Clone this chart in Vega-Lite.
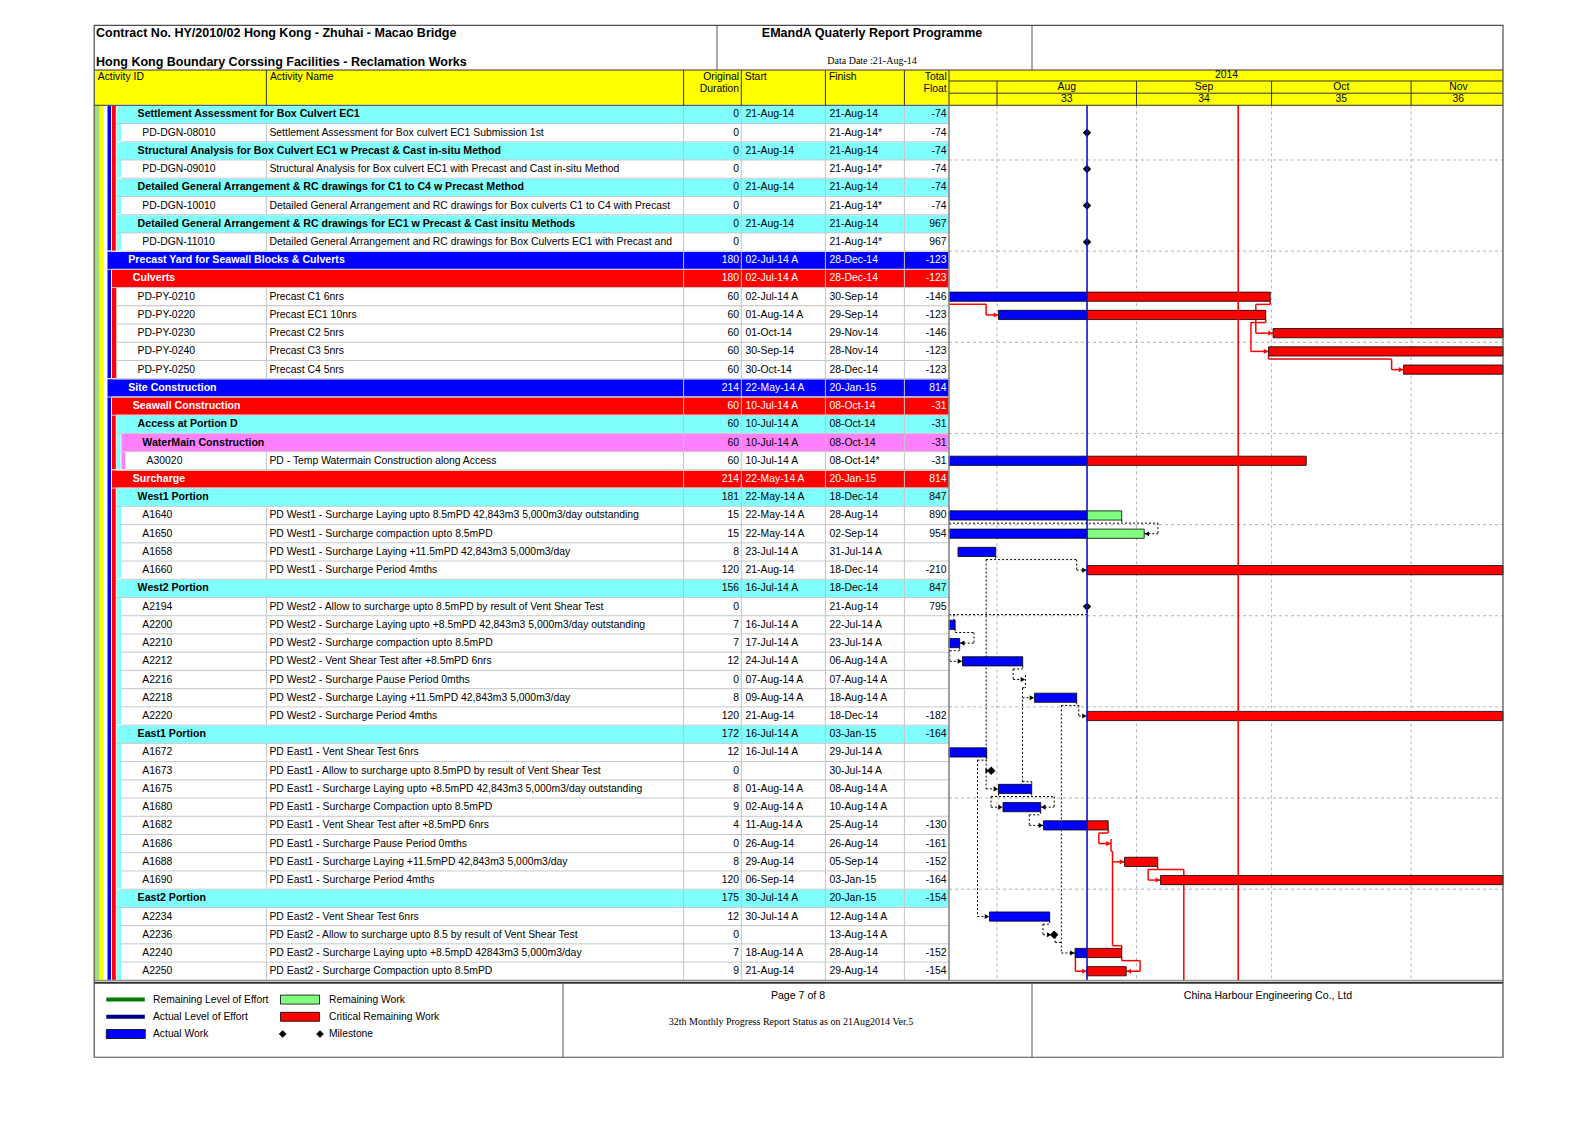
{
"$schema":"https://vega.github.io/schema/vega-lite/v6.json",
"width":1588,"height":1123,
"autosize":{"type":"none"},
"padding":0,
"background":"white",
"config":{"view":{"stroke":null},"axis":{"disable":true},"legend":{"disable":true}},
"datasets":{
"rows":[
{"r":1,"type":"band","lvl":3,"id":"","name":"Settlement Assessment for Box Culvert EC1","dur":"0","start":"21-Aug-14","finish":"21-Aug-14","float":"-74"},
{"r":2,"type":"act","lvl":4,"id":"PD-DGN-08010","name":"Settlement Assessment for Box culvert EC1 Submission 1st","dur":"0","start":"","finish":"21-Aug-14*","float":"-74"},
{"r":3,"type":"band","lvl":3,"id":"","name":"Structural Analysis for Box Culvert EC1 w Precast & Cast in-situ Method","dur":"0","start":"21-Aug-14","finish":"21-Aug-14","float":"-74"},
{"r":4,"type":"act","lvl":4,"id":"PD-DGN-09010","name":"Structural Analysis for Box culvert EC1 with Precast and Cast in-situ Method","dur":"0","start":"","finish":"21-Aug-14*","float":"-74"},
{"r":5,"type":"band","lvl":3,"id":"","name":"Detailed General Arrangement & RC drawings for C1 to C4  w Precast Method","dur":"0","start":"21-Aug-14","finish":"21-Aug-14","float":"-74"},
{"r":6,"type":"act","lvl":4,"id":"PD-DGN-10010","name":"Detailed General Arrangement and RC drawings for Box culverts C1 to C4 with Precast","dur":"0","start":"","finish":"21-Aug-14*","float":"-74"},
{"r":7,"type":"band","lvl":3,"id":"","name":"Detailed General Arrangement & RC drawings for EC1 w Precast & Cast insitu Methods","dur":"0","start":"21-Aug-14","finish":"21-Aug-14","float":"967"},
{"r":8,"type":"act","lvl":4,"id":"PD-DGN-11010","name":"Detailed General Arrangement and RC drawings for Box Culverts EC1 with Precast and","dur":"0","start":"","finish":"21-Aug-14*","float":"967"},
{"r":9,"type":"band","lvl":1,"id":"","name":"Precast Yard for Seawall Blocks & Culverts","dur":"180","start":"02-Jul-14 A","finish":"28-Dec-14","float":"-123"},
{"r":10,"type":"band","lvl":2,"id":"","name":"Culverts","dur":"180","start":"02-Jul-14 A","finish":"28-Dec-14","float":"-123"},
{"r":11,"type":"act","lvl":3,"id":"PD-PY-0210","name":"Precast C1 6nrs","dur":"60","start":"02-Jul-14 A","finish":"30-Sep-14","float":"-146"},
{"r":12,"type":"act","lvl":3,"id":"PD-PY-0220","name":"Precast EC1 10nrs","dur":"60","start":"01-Aug-14 A","finish":"29-Sep-14","float":"-123"},
{"r":13,"type":"act","lvl":3,"id":"PD-PY-0230","name":"Precast C2 5nrs","dur":"60","start":"01-Oct-14","finish":"29-Nov-14","float":"-146"},
{"r":14,"type":"act","lvl":3,"id":"PD-PY-0240","name":"Precast C3 5nrs","dur":"60","start":"30-Sep-14","finish":"28-Nov-14","float":"-123"},
{"r":15,"type":"act","lvl":3,"id":"PD-PY-0250","name":"Precast C4 5nrs","dur":"60","start":"30-Oct-14","finish":"28-Dec-14","float":"-123"},
{"r":16,"type":"band","lvl":1,"id":"","name":"Site Construction","dur":"214","start":"22-May-14 A","finish":"20-Jan-15","float":"814"},
{"r":17,"type":"band","lvl":2,"id":"","name":"Seawall Construction","dur":"60","start":"10-Jul-14 A","finish":"08-Oct-14","float":"-31"},
{"r":18,"type":"band","lvl":3,"id":"","name":"Access at Portion D","dur":"60","start":"10-Jul-14 A","finish":"08-Oct-14","float":"-31"},
{"r":19,"type":"band","lvl":4,"id":"","name":"WaterMain Construction","dur":"60","start":"10-Jul-14 A","finish":"08-Oct-14","float":"-31"},
{"r":20,"type":"act","lvl":5,"id":"A30020","name":"PD - Temp Watermain Construction along Access","dur":"60","start":"10-Jul-14 A","finish":"08-Oct-14*","float":"-31"},
{"r":21,"type":"band","lvl":2,"id":"","name":"Surcharge","dur":"214","start":"22-May-14 A","finish":"20-Jan-15","float":"814"},
{"r":22,"type":"band","lvl":3,"id":"","name":"West1 Portion","dur":"181","start":"22-May-14 A","finish":"18-Dec-14","float":"847"},
{"r":23,"type":"act","lvl":4,"id":"A1640","name":"PD West1 - Surcharge Laying upto 8.5mPD 42,843m3 5,000m3/day outstanding","dur":"15","start":"22-May-14 A","finish":"28-Aug-14","float":"890"},
{"r":24,"type":"act","lvl":4,"id":"A1650","name":"PD West1 - Surcharge compaction upto 8.5mPD","dur":"15","start":"22-May-14 A","finish":"02-Sep-14","float":"954"},
{"r":25,"type":"act","lvl":4,"id":"A1658","name":"PD West1 - Surcharge Laying +11.5mPD 42,843m3 5,000m3/day","dur":"8","start":"23-Jul-14 A","finish":"31-Jul-14 A","float":""},
{"r":26,"type":"act","lvl":4,"id":"A1660","name":"PD West1 - Surcharge Period 4mths","dur":"120","start":"21-Aug-14","finish":"18-Dec-14","float":"-210"},
{"r":27,"type":"band","lvl":3,"id":"","name":"West2 Portion","dur":"156","start":"16-Jul-14 A","finish":"18-Dec-14","float":"847"},
{"r":28,"type":"act","lvl":4,"id":"A2194","name":"PD West2 - Allow to surcharge upto 8.5mPD by result of Vent Shear Test","dur":"0","start":"","finish":"21-Aug-14","float":"795"},
{"r":29,"type":"act","lvl":4,"id":"A2200","name":"PD West2 - Surcharge Laying upto +8.5mPD 42,843m3 5,000m3/day outstanding","dur":"7","start":"16-Jul-14 A","finish":"22-Jul-14 A","float":""},
{"r":30,"type":"act","lvl":4,"id":"A2210","name":"PD West2 - Surcharge compaction upto 8.5mPD","dur":"7","start":"17-Jul-14 A","finish":"23-Jul-14 A","float":""},
{"r":31,"type":"act","lvl":4,"id":"A2212","name":"PD West2 - Vent Shear Test after +8.5mPD 6nrs","dur":"12","start":"24-Jul-14 A","finish":"06-Aug-14 A","float":""},
{"r":32,"type":"act","lvl":4,"id":"A2216","name":"PD West2 - Surcharge Pause Period 0mths","dur":"0","start":"07-Aug-14 A","finish":"07-Aug-14 A","float":""},
{"r":33,"type":"act","lvl":4,"id":"A2218","name":"PD West2 - Surcharge Laying +11.5mPD 42,843m3 5,000m3/day","dur":"8","start":"09-Aug-14 A","finish":"18-Aug-14 A","float":""},
{"r":34,"type":"act","lvl":4,"id":"A2220","name":"PD West2 - Surcharge Period 4mths","dur":"120","start":"21-Aug-14","finish":"18-Dec-14","float":"-182"},
{"r":35,"type":"band","lvl":3,"id":"","name":"East1 Portion","dur":"172","start":"16-Jul-14 A","finish":"03-Jan-15","float":"-164"},
{"r":36,"type":"act","lvl":4,"id":"A1672","name":"PD East1 - Vent Shear Test 6nrs","dur":"12","start":"16-Jul-14 A","finish":"29-Jul-14 A","float":""},
{"r":37,"type":"act","lvl":4,"id":"A1673","name":"PD East1 - Allow to surcharge upto 8.5mPD by result of Vent Shear Test","dur":"0","start":"","finish":"30-Jul-14 A","float":""},
{"r":38,"type":"act","lvl":4,"id":"A1675","name":"PD East1 - Surcharge Laying upto +8.5mPD 42,843m3 5,000m3/day outstanding","dur":"8","start":"01-Aug-14 A","finish":"08-Aug-14 A","float":""},
{"r":39,"type":"act","lvl":4,"id":"A1680","name":"PD East1 - Surcharge Compaction upto 8.5mPD","dur":"9","start":"02-Aug-14 A","finish":"10-Aug-14 A","float":""},
{"r":40,"type":"act","lvl":4,"id":"A1682","name":"PD East1 - Vent Shear Test after +8.5mPD 6nrs","dur":"4","start":"11-Aug-14 A","finish":"25-Aug-14","float":"-130"},
{"r":41,"type":"act","lvl":4,"id":"A1686","name":"PD East1 - Surcharge Pause Period 0mths","dur":"0","start":"26-Aug-14","finish":"26-Aug-14","float":"-161"},
{"r":42,"type":"act","lvl":4,"id":"A1688","name":"PD East1 - Surcharge Laying +11.5mPD 42,843m3 5,000m3/day","dur":"8","start":"29-Aug-14","finish":"05-Sep-14","float":"-152"},
{"r":43,"type":"act","lvl":4,"id":"A1690","name":"PD East1 - Surcharge Period 4mths","dur":"120","start":"06-Sep-14","finish":"03-Jan-15","float":"-164"},
{"r":44,"type":"band","lvl":3,"id":"","name":"East2 Portion","dur":"175","start":"30-Jul-14 A","finish":"20-Jan-15","float":"-154"},
{"r":45,"type":"act","lvl":4,"id":"A2234","name":"PD East2 - Vent Shear Test 6nrs","dur":"12","start":"30-Jul-14 A","finish":"12-Aug-14 A","float":""},
{"r":46,"type":"act","lvl":4,"id":"A2236","name":"PD East2 - Allow to surcharge upto 8.5 by result of Vent Shear Test","dur":"0","start":"","finish":"13-Aug-14 A","float":""},
{"r":47,"type":"act","lvl":4,"id":"A2240","name":"PD East2 - Surcharge Laying upto +8.5mpD 42843m3 5,000m3/day","dur":"7","start":"18-Aug-14 A","finish":"28-Aug-14","float":"-152"},
{"r":48,"type":"act","lvl":4,"id":"A2250","name":"PD East2 - Surcharge Compaction upto 8.5mPD","dur":"9","start":"21-Aug-14","finish":"29-Aug-14","float":"-154"}
],
"groups":[
{"lvl":-3,"r":1,"r2":48},{"lvl":-2,"r":1,"r2":48},{"lvl":-1,"r":1,"r2":48},{"lvl":0,"r":1,"r2":48},
{"lvl":1,"r":1,"r2":8},{"lvl":1,"r":9,"r2":15},{"lvl":1,"r":16,"r2":48},
{"lvl":2,"r":1,"r2":8},{"lvl":2,"r":10,"r2":15},{"lvl":2,"r":17,"r2":20},{"lvl":2,"r":21,"r2":48},
{"lvl":3,"r":1,"r2":2},{"lvl":3,"r":3,"r2":4},{"lvl":3,"r":5,"r2":6},{"lvl":3,"r":7,"r2":8},{"lvl":3,"r":18,"r2":20},{"lvl":3,"r":22,"r2":26},{"lvl":3,"r":27,"r2":34},{"lvl":3,"r":35,"r2":43},{"lvl":3,"r":44,"r2":48},
{"lvl":4,"r":19,"r2":20}
],
"bars":[
{"r":11,"seg":"act","from":"2014-07-02T08:00:00Z","to":"2014-08-21T00:00:00Z"},
{"r":11,"seg":"crit","from":"2014-08-21T00:00:00Z","to":"2014-09-30T17:00:00Z"},
{"r":12,"seg":"act","from":"2014-08-01T08:00:00Z","to":"2014-08-21T00:00:00Z"},
{"r":12,"seg":"crit","from":"2014-08-21T00:00:00Z","to":"2014-09-29T17:00:00Z"},
{"r":13,"seg":"crit","from":"2014-10-01T08:00:00Z","to":"2014-11-29T17:00:00Z"},
{"r":14,"seg":"crit","from":"2014-09-30T08:00:00Z","to":"2014-11-28T17:00:00Z"},
{"r":15,"seg":"crit","from":"2014-10-30T08:00:00Z","to":"2014-12-28T17:00:00Z"},
{"r":20,"seg":"act","from":"2014-07-10T08:00:00Z","to":"2014-08-21T00:00:00Z"},
{"r":20,"seg":"crit","from":"2014-08-21T00:00:00Z","to":"2014-10-08T17:00:00Z"},
{"r":23,"seg":"act","from":"2014-05-22T08:00:00Z","to":"2014-08-21T00:00:00Z"},
{"r":23,"seg":"rem","from":"2014-08-21T00:00:00Z","to":"2014-08-28T17:00:00Z"},
{"r":24,"seg":"act","from":"2014-05-22T08:00:00Z","to":"2014-08-21T00:00:00Z"},
{"r":24,"seg":"rem","from":"2014-08-21T00:00:00Z","to":"2014-09-02T17:00:00Z"},
{"r":25,"seg":"act","from":"2014-07-23T08:00:00Z","to":"2014-07-31T17:00:00Z"},
{"r":26,"seg":"crit","from":"2014-08-21T00:00:00Z","to":"2014-12-18T17:00:00Z"},
{"r":29,"seg":"act","from":"2014-07-16T08:00:00Z","to":"2014-07-22T17:00:00Z"},
{"r":30,"seg":"act","from":"2014-07-17T08:00:00Z","to":"2014-07-23T17:00:00Z"},
{"r":31,"seg":"act","from":"2014-07-24T08:00:00Z","to":"2014-08-06T17:00:00Z"},
{"r":33,"seg":"act","from":"2014-08-09T08:00:00Z","to":"2014-08-18T17:00:00Z"},
{"r":34,"seg":"crit","from":"2014-08-21T00:00:00Z","to":"2014-12-18T17:00:00Z"},
{"r":36,"seg":"act","from":"2014-07-16T08:00:00Z","to":"2014-07-29T17:00:00Z"},
{"r":38,"seg":"act","from":"2014-08-01T08:00:00Z","to":"2014-08-08T17:00:00Z"},
{"r":39,"seg":"act","from":"2014-08-02T08:00:00Z","to":"2014-08-10T17:00:00Z"},
{"r":40,"seg":"act","from":"2014-08-11T08:00:00Z","to":"2014-08-21T00:00:00Z"},
{"r":40,"seg":"crit","from":"2014-08-21T00:00:00Z","to":"2014-08-25T17:00:00Z"},
{"r":42,"seg":"crit","from":"2014-08-29T08:00:00Z","to":"2014-09-05T17:00:00Z"},
{"r":43,"seg":"crit","from":"2014-09-06T08:00:00Z","to":"2015-01-03T17:00:00Z"},
{"r":45,"seg":"act","from":"2014-07-30T08:00:00Z","to":"2014-08-12T17:00:00Z"},
{"r":47,"seg":"act","from":"2014-08-18T08:00:00Z","to":"2014-08-21T00:00:00Z"},
{"r":47,"seg":"crit","from":"2014-08-21T00:00:00Z","to":"2014-08-28T17:00:00Z"},
{"r":48,"seg":"crit","from":"2014-08-21T00:00:00Z","to":"2014-08-29T17:00:00Z"}
],
"miles":[
{"r":2,"at":"2014-08-21T00:00:00Z"},{"r":4,"at":"2014-08-21T00:00:00Z"},{"r":6,"at":"2014-08-21T00:00:00Z"},{"r":8,"at":"2014-08-21T00:00:00Z"},
{"r":28,"at":"2014-08-21T00:00:00Z"},{"r":37,"at":"2014-07-30T17:00:00Z"},{"r":46,"at":"2014-08-13T17:00:00Z"}
],
"links":[
{"rel":"crit","t1":"2014-07-15T00:00:00Z","t2":"2014-07-29T14:00:00Z","r":11.42,"r2":11.42},
{"rel":"crit","t1":"2014-07-29T14:00:00Z","t2":"2014-07-29T14:00:00Z","r":11.42,"r2":12},
{"rel":"crit","t1":"2014-07-29T14:00:00Z","t2":"2014-08-01T08:00:00Z","r":12,"r2":12},
{"rel":"crit","t1":"2014-09-30T17:00:00Z","t2":"2014-09-30T17:00:00Z","r":11.25,"r2":11.42},
{"rel":"crit","t1":"2014-09-27T12:00:00Z","t2":"2014-09-30T17:00:00Z","r":11.42,"r2":11.42},
{"rel":"crit","t1":"2014-09-27T12:00:00Z","t2":"2014-09-27T12:00:00Z","r":11.42,"r2":13},
{"rel":"crit","t1":"2014-09-27T12:00:00Z","t2":"2014-10-01T08:00:00Z","r":13,"r2":13},
{"rel":"crit","t1":"2014-09-29T17:00:00Z","t2":"2014-09-29T17:00:00Z","r":12.25,"r2":12.42},
{"rel":"crit","t1":"2014-09-26T10:00:00Z","t2":"2014-09-29T17:00:00Z","r":12.42,"r2":12.42},
{"rel":"crit","t1":"2014-09-26T10:00:00Z","t2":"2014-09-26T10:00:00Z","r":12.42,"r2":14},
{"rel":"crit","t1":"2014-09-26T10:00:00Z","t2":"2014-09-30T08:00:00Z","r":14,"r2":14},
{"rel":"crit","t1":"2014-09-30T08:00:00Z","t2":"2014-09-30T08:00:00Z","r":14.25,"r2":14.42},
{"rel":"crit","t1":"2014-09-30T08:00:00Z","t2":"2014-10-27T16:00:00Z","r":14.42,"r2":14.42},
{"rel":"crit","t1":"2014-10-27T16:00:00Z","t2":"2014-10-27T16:00:00Z","r":14.42,"r2":15},
{"rel":"crit","t1":"2014-10-27T16:00:00Z","t2":"2014-10-30T08:00:00Z","r":15,"r2":15},
{"rel":"crit","t1":"2014-08-25T17:00:00Z","t2":"2014-08-25T17:00:00Z","r":40.25,"r2":40.42},
{"rel":"crit","t1":"2014-08-23T15:00:00Z","t2":"2014-08-25T17:00:00Z","r":40.42,"r2":40.42},
{"rel":"crit","t1":"2014-08-23T15:00:00Z","t2":"2014-08-23T15:00:00Z","r":40.42,"r2":41},
{"rel":"crit","t1":"2014-08-23T15:00:00Z","t2":"2014-08-26T08:00:00Z","r":41,"r2":41},
{"rel":"crit","t1":"2014-08-26T08:00:00Z","t2":"2014-08-26T08:00:00Z","r":40.75,"r2":41.42},
{"rel":"crit","t1":"2014-08-26T08:00:00Z","t2":"2014-08-26T16:00:00Z","r":41.42,"r2":41.42},
{"rel":"crit","t1":"2014-08-26T16:00:00Z","t2":"2014-08-26T16:00:00Z","r":41.42,"r2":46.6},
{"rel":"crit","t1":"2014-08-26T16:00:00Z","t2":"2014-08-29T08:00:00Z","r":42,"r2":42},
{"rel":"crit","t1":"2014-08-26T16:00:00Z","t2":"2014-08-28T17:00:00Z","r":46.6,"r2":46.6},
{"rel":"crit","t1":"2014-08-28T17:00:00Z","t2":"2014-08-28T17:00:00Z","r":46.6,"r2":46.75},
{"rel":"crit","t1":"2014-09-05T17:00:00Z","t2":"2014-09-05T17:00:00Z","r":42.25,"r2":42.42},
{"rel":"crit","t1":"2014-09-03T14:00:00Z","t2":"2014-09-11T12:00:00Z","r":42.42,"r2":42.42},
{"rel":"crit","t1":"2014-09-03T14:00:00Z","t2":"2014-09-03T14:00:00Z","r":42.42,"r2":43},
{"rel":"crit","t1":"2014-09-03T14:00:00Z","t2":"2014-09-06T08:00:00Z","r":43,"r2":43},
{"rel":"crit","t1":"2014-09-11T12:00:00Z","t2":"2014-09-11T12:00:00Z","r":42.42,"r2":48.5},
{"rel":"crit","t1":"2014-08-18T10:00:00Z","t2":"2014-08-18T10:00:00Z","r":47.25,"r2":48},
{"rel":"crit","t1":"2014-08-18T10:00:00Z","t2":"2014-08-21T00:00:00Z","r":48,"r2":48},
{"rel":"crit","t1":"2014-08-28T17:00:00Z","t2":"2014-08-28T17:00:00Z","r":47.25,"r2":47.42},
{"rel":"crit","t1":"2014-08-28T17:00:00Z","t2":"2014-09-01T19:00:00Z","r":47.42,"r2":47.42},
{"rel":"crit","t1":"2014-09-01T19:00:00Z","t2":"2014-09-01T19:00:00Z","r":47.42,"r2":48},
{"rel":"crit","t1":"2014-08-29T17:00:00Z","t2":"2014-09-01T19:00:00Z","r":48,"r2":48},
{"rel":"norm","t1":"2014-08-28T17:00:00Z","t2":"2014-08-28T17:00:00Z","r":23.25,"r2":23.42},
{"rel":"norm","t1":"2014-07-15T00:00:00Z","t2":"2014-09-05T18:00:00Z","r":23.42,"r2":23.42},
{"rel":"norm","t1":"2014-09-05T18:00:00Z","t2":"2014-09-05T18:00:00Z","r":23.42,"r2":24},
{"rel":"norm","t1":"2014-09-02T17:00:00Z","t2":"2014-09-05T18:00:00Z","r":24,"r2":24},
{"rel":"norm","t1":"2014-07-31T17:00:00Z","t2":"2014-07-31T17:00:00Z","r":25.25,"r2":25.42},
{"rel":"norm","t1":"2014-07-29T14:00:00Z","t2":"2014-08-18T17:00:00Z","r":25.42,"r2":25.42},
{"rel":"norm","t1":"2014-08-18T17:00:00Z","t2":"2014-08-18T17:00:00Z","r":25.42,"r2":26},
{"rel":"norm","t1":"2014-08-18T17:00:00Z","t2":"2014-08-21T00:00:00Z","r":26,"r2":26},
{"rel":"norm","t1":"2014-07-29T14:00:00Z","t2":"2014-07-29T14:00:00Z","r":25.42,"r2":38},
{"rel":"norm","t1":"2014-07-29T14:00:00Z","t2":"2014-07-30T12:00:00Z","r":37,"r2":37},
{"rel":"norm","t1":"2014-07-29T14:00:00Z","t2":"2014-08-01T08:00:00Z","r":38,"r2":38},
{"rel":"norm","t1":"2014-08-21T00:00:00Z","t2":"2014-08-21T00:00:00Z","r":28,"r2":28.44},
{"rel":"norm","t1":"2014-07-15T00:00:00Z","t2":"2014-08-21T00:00:00Z","r":28.44,"r2":28.44},
{"rel":"norm","t1":"2014-07-22T10:00:00Z","t2":"2014-07-22T10:00:00Z","r":28.44,"r2":28.8},
{"rel":"norm","t1":"2014-07-22T17:00:00Z","t2":"2014-07-22T17:00:00Z","r":29.25,"r2":29.42},
{"rel":"norm","t1":"2014-07-22T17:00:00Z","t2":"2014-07-26T21:00:00Z","r":29.42,"r2":29.42},
{"rel":"norm","t1":"2014-07-26T21:00:00Z","t2":"2014-07-26T21:00:00Z","r":29.42,"r2":30},
{"rel":"norm","t1":"2014-07-23T17:00:00Z","t2":"2014-07-26T21:00:00Z","r":30,"r2":30},
{"rel":"norm","t1":"2014-07-23T17:00:00Z","t2":"2014-07-23T17:00:00Z","r":30.25,"r2":30.42},
{"rel":"norm","t1":"2014-07-21T12:00:00Z","t2":"2014-07-23T17:00:00Z","r":30.42,"r2":30.42},
{"rel":"norm","t1":"2014-07-21T12:00:00Z","t2":"2014-07-21T12:00:00Z","r":30.42,"r2":31},
{"rel":"norm","t1":"2014-07-21T12:00:00Z","t2":"2014-07-24T08:00:00Z","r":31,"r2":31},
{"rel":"norm","t1":"2014-08-06T17:00:00Z","t2":"2014-08-06T17:00:00Z","r":31.25,"r2":31.42},
{"rel":"norm","t1":"2014-08-04T14:00:00Z","t2":"2014-08-06T17:00:00Z","r":31.42,"r2":31.42},
{"rel":"norm","t1":"2014-08-04T14:00:00Z","t2":"2014-08-04T14:00:00Z","r":31.42,"r2":32},
{"rel":"norm","t1":"2014-08-04T14:00:00Z","t2":"2014-08-07T08:00:00Z","r":32,"r2":32},
{"rel":"norm","t1":"2014-08-07T08:00:00Z","t2":"2014-08-07T08:00:00Z","r":31.75,"r2":32.45},
{"rel":"norm","t1":"2014-08-06T16:00:00Z","t2":"2014-08-07T08:00:00Z","r":32.45,"r2":32.45},
{"rel":"norm","t1":"2014-08-06T16:00:00Z","t2":"2014-08-06T16:00:00Z","r":32.45,"r2":37.6},
{"rel":"norm","t1":"2014-08-06T16:00:00Z","t2":"2014-08-09T08:00:00Z","r":33,"r2":33},
{"rel":"norm","t1":"2014-08-06T16:00:00Z","t2":"2014-08-08T17:00:00Z","r":37.6,"r2":37.6},
{"rel":"norm","t1":"2014-08-08T17:00:00Z","t2":"2014-08-08T17:00:00Z","r":37.6,"r2":37.75},
{"rel":"norm","t1":"2014-08-18T17:00:00Z","t2":"2014-08-18T17:00:00Z","r":33.25,"r2":33.42},
{"rel":"norm","t1":"2014-08-15T07:00:00Z","t2":"2014-08-19T04:00:00Z","r":33.42,"r2":33.42},
{"rel":"norm","t1":"2014-08-19T04:00:00Z","t2":"2014-08-19T04:00:00Z","r":33.42,"r2":34},
{"rel":"norm","t1":"2014-08-19T04:00:00Z","t2":"2014-08-21T00:00:00Z","r":34,"r2":34},
{"rel":"norm","t1":"2014-08-15T07:00:00Z","t2":"2014-08-15T07:00:00Z","r":33.42,"r2":47},
{"rel":"norm","t1":"2014-08-15T07:00:00Z","t2":"2014-08-18T08:00:00Z","r":47,"r2":47},
{"rel":"norm","t1":"2014-07-29T17:00:00Z","t2":"2014-07-29T17:00:00Z","r":36.25,"r2":36.42},
{"rel":"norm","t1":"2014-07-27T16:00:00Z","t2":"2014-07-29T17:00:00Z","r":36.42,"r2":36.42},
{"rel":"norm","t1":"2014-07-27T16:00:00Z","t2":"2014-07-27T16:00:00Z","r":36.42,"r2":45},
{"rel":"norm","t1":"2014-07-27T16:00:00Z","t2":"2014-07-30T08:00:00Z","r":45,"r2":45},
{"rel":"norm","t1":"2014-08-08T17:00:00Z","t2":"2014-08-08T17:00:00Z","r":38.25,"r2":38.42},
{"rel":"norm","t1":"2014-08-01T08:00:00Z","t2":"2014-08-01T08:00:00Z","r":38.25,"r2":38.42},
{"rel":"norm","t1":"2014-07-30T16:00:00Z","t2":"2014-08-13T17:00:00Z","r":38.42,"r2":38.42},
{"rel":"norm","t1":"2014-08-13T17:00:00Z","t2":"2014-08-13T17:00:00Z","r":38.42,"r2":39},
{"rel":"norm","t1":"2014-08-10T17:00:00Z","t2":"2014-08-13T17:00:00Z","r":39,"r2":39},
{"rel":"norm","t1":"2014-07-30T16:00:00Z","t2":"2014-07-30T16:00:00Z","r":38.42,"r2":39},
{"rel":"norm","t1":"2014-07-30T16:00:00Z","t2":"2014-08-02T08:00:00Z","r":39,"r2":39},
{"rel":"norm","t1":"2014-08-10T17:00:00Z","t2":"2014-08-10T17:00:00Z","r":39.25,"r2":39.42},
{"rel":"norm","t1":"2014-08-08T04:00:00Z","t2":"2014-08-10T17:00:00Z","r":39.42,"r2":39.42},
{"rel":"norm","t1":"2014-08-08T04:00:00Z","t2":"2014-08-08T04:00:00Z","r":39.42,"r2":40},
{"rel":"norm","t1":"2014-08-08T04:00:00Z","t2":"2014-08-11T08:00:00Z","r":40,"r2":40},
{"rel":"norm","t1":"2014-08-12T17:00:00Z","t2":"2014-08-12T17:00:00Z","r":45.25,"r2":45.42},
{"rel":"norm","t1":"2014-08-11T05:00:00Z","t2":"2014-08-12T17:00:00Z","r":45.42,"r2":45.42},
{"rel":"norm","t1":"2014-08-11T05:00:00Z","t2":"2014-08-11T05:00:00Z","r":45.42,"r2":46},
{"rel":"norm","t1":"2014-08-11T05:00:00Z","t2":"2014-08-13T12:00:00Z","r":46,"r2":46},
{"rel":"norm","t1":"2014-08-13T22:00:00Z","t2":"2014-08-13T22:00:00Z","r":46.1,"r2":46.42},
{"rel":"norm","t1":"2014-08-13T22:00:00Z","t2":"2014-08-15T07:00:00Z","r":46.42,"r2":46.42}
],
"arrows":[
{"at":"2014-07-31T18:00:00Z","r":12,"dir":"R","rel":"crit"},
{"at":"2014-09-30T18:00:00Z","r":13,"dir":"R","rel":"crit"},
{"at":"2014-09-29T18:00:00Z","r":14,"dir":"R","rel":"crit"},
{"at":"2014-10-29T18:00:00Z","r":15,"dir":"R","rel":"crit"},
{"at":"2014-08-25T18:00:00Z","r":41,"dir":"R","rel":"crit"},
{"at":"2014-08-28T18:00:00Z","r":42,"dir":"R","rel":"crit"},
{"at":"2014-09-05T18:00:00Z","r":43,"dir":"R","rel":"crit"},
{"at":"2014-08-20T10:00:00Z","r":48,"dir":"R","rel":"crit"},
{"at":"2014-08-30T07:00:00Z","r":48,"dir":"L","rel":"crit"},
{"at":"2014-09-03T07:00:00Z","r":24,"dir":"L","rel":"norm"},
{"at":"2014-08-20T10:00:00Z","r":26,"dir":"R","rel":"norm"},
{"at":"2014-07-29T22:00:00Z","r":37,"dir":"R","rel":"norm"},
{"at":"2014-07-24T07:00:00Z","r":30,"dir":"L","rel":"norm"},
{"at":"2014-07-23T18:00:00Z","r":31,"dir":"R","rel":"norm"},
{"at":"2014-08-06T18:00:00Z","r":32,"dir":"R","rel":"norm"},
{"at":"2014-08-08T18:00:00Z","r":33,"dir":"R","rel":"norm"},
{"at":"2014-08-20T10:00:00Z","r":34,"dir":"R","rel":"norm"},
{"at":"2014-07-31T18:00:00Z","r":38,"dir":"R","rel":"norm"},
{"at":"2014-08-11T07:00:00Z","r":39,"dir":"L","rel":"norm"},
{"at":"2014-08-01T18:00:00Z","r":39,"dir":"R","rel":"norm"},
{"at":"2014-08-10T18:00:00Z","r":40,"dir":"R","rel":"norm"},
{"at":"2014-07-29T18:00:00Z","r":45,"dir":"R","rel":"norm"},
{"at":"2014-08-12T14:00:00Z","r":46,"dir":"R","rel":"norm"},
{"at":"2014-08-17T18:00:00Z","r":47,"dir":"R","rel":"norm"}
],
"timescale":[
{"d":"2014-08-01T00:00:00Z","mid":"2014-08-16T12:00:00Z","mon":"Aug","wk":"33"},
{"d":"2014-09-01T00:00:00Z","mid":"2014-09-16T00:00:00Z","mon":"Sep","wk":"34"},
{"d":"2014-10-01T00:00:00Z","mid":"2014-10-16T12:00:00Z","mon":"Oct","wk":"35"},
{"d":"2014-11-01T00:00:00Z","mid":"2014-11-11T12:00:00Z","mon":"Nov","wk":"36"}
],
"legend":[
{"label":"Remaining Level of Effort","k":"rloe","lc":1,"lr":1},
{"label":"Actual Level of Effort","k":"aloe","lc":1,"lr":2},
{"label":"Actual Work","k":"act","lc":1,"lr":3},
{"label":"Remaining Work","k":"rem","lc":2,"lr":1},
{"label":"Critical Remaining Work","k":"crit","lc":2,"lr":2},
{"label":"Milestone","k":"ms","lc":2,"lr":3}
],
"colhdr":[
{"label":"Activity ID","a":-3,"line":1,"side":"l"},
{"label":"Activity Name","a":10,"line":1,"side":"l"},
{"label":"Start","a":30,"line":1,"side":"l"},
{"label":"Finish","a":40,"line":1,"side":"l"},
{"label":"Original","a":30,"line":1,"side":"r"},
{"label":"Duration","a":30,"line":2,"side":"r"},
{"label":"Total","a":60,"line":1,"side":"r"},
{"label":"Float","a":60,"line":2,"side":"r"}
]
},
"layer":[
{"data":{"values":[{}]},"mark":{"type":"rect","color":"#FFFF00"},
 "encoding":{"x":{"datum":0,"type":"quantitative","scale":{"domain":[0,1,2,3,4,5,6,7,8,9,10],"range":[94.2,96,563,717,791,798,872,949,1032,1268,1503],"nice":false,"zero":false}},"x2":{"datum":10},
 "y":{"datum":-1.436,"type":"quantitative","scale":{"domain":[-5.276,56.326],"reverse":true,"nice":false,"zero":false}},"y2":{"datum":0.5}}},

{"data":{"name":"groups"},"transform":[{"filter":"datum.lvl <= 0"}],"mark":{"type":"rect","yOffset":-9.115,"y2Offset":9.115},
 "encoding":{"x":{"field":"lvl","type":"quantitative","scale":{"domain":[-3,-2,-1,0,1,2,3,4,5,10,20,30,40,50,60],"range":[94.2,94.8,99.3,103.7,107,111.5,116.3,121,125.3,266.4,683.6,741.3,825.4,904.4,949],"nice":false,"zero":false}},"x2":{"datum":60},
 "y":{"field":"r","type":"quantitative","scale":{"domain":[-5.276,56.326],"reverse":true,"nice":false,"zero":false}},"y2":{"field":"r2"},
 "color":{"field":"lvl","type":"ordinal","scale":{"domain":[-3,-2,-1,0],"range":["#FFFF00","#9EE07E","#FFFF00","#FFFFFF"]},"legend":null}}},

{"data":{"name":"groups"},"transform":[{"filter":"datum.lvl >= 1"}],"mark":{"type":"rect","yOffset":-9.115,"y2Offset":9.115,"stroke":"#FFFFFF","strokeWidth":1},
 "encoding":{"x":{"field":"lvl","type":"quantitative","scale":{"domain":[-3,-2,-1,0,1,2,3,4,5,10,20,30,40,50,60],"range":[94.2,94.8,99.3,103.7,107,111.5,116.3,121,125.3,266.4,683.6,741.3,825.4,904.4,949],"nice":false,"zero":false}},"x2":{"datum":60},
 "y":{"field":"r","type":"quantitative","scale":{"domain":[-5.276,56.326],"reverse":true,"nice":false,"zero":false}},"y2":{"field":"r2"},
 "color":{"field":"lvl","type":"ordinal","scale":{"domain":[1,2,3,4],"range":["#0000FF","#FF0000","#80FFFF","#FF80FF"]},"legend":null}}},

{"data":{"name":"rows"},"transform":[{"filter":"datum.type === 'act'"}],"mark":{"type":"rect","fill":"#FFFFFF","yOffset":-9.115,"y2Offset":9.115},
 "encoding":{"x":{"field":"lvl","type":"quantitative","scale":{"domain":[-3,-2,-1,0,1,2,3,4,5,10,20,30,40,50,60],"range":[94.2,94.8,99.3,103.7,107,111.5,116.3,121,125.3,266.4,683.6,741.3,825.4,904.4,949],"nice":false,"zero":false}},"x2":{"datum":60},
 "y":{"field":"r","type":"quantitative","scale":{"domain":[-5.276,56.326],"reverse":true,"nice":false,"zero":false}},"y2":{"field":"r"}}},

{"data":{"name":"rows"},"mark":{"type":"rule","color":"#C8C8C8","strokeWidth":1,"yOffset":9.115,"y2Offset":9.115},
 "encoding":{"x":{"field":"lvl","type":"quantitative","scale":{"domain":[-3,-2,-1,0,1,2,3,4,5,10,20,30,40,50,60],"range":[94.2,94.8,99.3,103.7,107,111.5,116.3,121,125.3,266.4,683.6,741.3,825.4,904.4,949],"nice":false,"zero":false}},"x2":{"datum":60},
 "y":{"field":"r","type":"quantitative","scale":{"domain":[-5.276,56.326],"reverse":true,"nice":false,"zero":false}},"y2":{"field":"r"}}},

{"data":{"values":[{"e":20},{"e":30},{"e":40},{"e":50}]},"mark":{"type":"rule","color":"#C4C4C4","strokeWidth":1},
 "encoding":{"x":{"field":"e","type":"quantitative","scale":{"domain":[-3,-2,-1,0,1,2,3,4,5,10,20,30,40,50,60],"range":[94.2,94.8,99.3,103.7,107,111.5,116.3,121,125.3,266.4,683.6,741.3,825.4,904.4,949],"nice":false,"zero":false}},
 "y":{"datum":0.5,"type":"quantitative","scale":{"domain":[-5.276,56.326],"reverse":true,"nice":false,"zero":false}},"y2":{"datum":48.5}}},

{"data":{"name":"rows"},"transform":[{"filter":"datum.type === 'act'"}],"mark":{"type":"rule","color":"#C4C4C4","strokeWidth":1,"yOffset":-9.115,"y2Offset":9.115},
 "encoding":{"x":{"datum":10,"type":"quantitative","scale":{"domain":[-3,-2,-1,0,1,2,3,4,5,10,20,30,40,50,60],"range":[94.2,94.8,99.3,103.7,107,111.5,116.3,121,125.3,266.4,683.6,741.3,825.4,904.4,949],"nice":false,"zero":false}},
 "y":{"field":"r","type":"quantitative","scale":{"domain":[-5.276,56.326],"reverse":true,"nice":false,"zero":false}},"y2":{"field":"r"}}},

{"data":{"name":"timescale"},"mark":{"type":"rule","color":"#A0A0A0","strokeWidth":0.8,"strokeDash":[3,3]},
 "encoding":{"x":{"field":"d","type":"temporal","scale":{"type":"utc","domain":[{"year":2014,"month":7,"date":21,"hours":8,"utc":true},{"year":2014,"month":11,"date":21,"hours":10,"utc":true}],"range":[949,1503],"clamp":true,"nice":false}},
 "y":{"datum":0.5,"type":"quantitative","scale":{"domain":[-5.276,56.326],"reverse":true,"nice":false,"zero":false}},"y2":{"datum":48.5}}},

{"data":{"values":[{"r":3},{"r":8},{"r":13},{"r":18},{"r":23},{"r":28},{"r":33},{"r":38},{"r":43}]},"mark":{"type":"rule","color":"#A0A0A0","strokeWidth":0.8,"strokeDash":[3,3],"yOffset":9.115,"y2Offset":9.115},
 "encoding":{"x":{"datum":{"year":2014,"month":7,"date":1,"utc":true},"type":"temporal","scale":{"type":"utc","domain":[{"year":2014,"month":7,"date":21,"hours":8,"utc":true},{"year":2014,"month":11,"date":21,"hours":10,"utc":true}],"range":[949,1503],"clamp":true,"nice":false}},
 "x2":{"datum":{"year":2015,"month":1,"date":1,"utc":true}},
 "y":{"field":"r","type":"quantitative","scale":{"domain":[-5.276,56.326],"reverse":true,"nice":false,"zero":false}},"y2":{"field":"r"}}},

{"data":{"name":"links"},"transform":[{"filter":"datum.rel === 'norm'"}],"mark":{"type":"rule","color":"#000000","strokeWidth":1,"strokeDash":[2,2]},
 "encoding":{"x":{"field":"t1","type":"temporal","scale":{"type":"utc","domain":[{"year":2014,"month":7,"date":21,"hours":8,"utc":true},{"year":2014,"month":11,"date":21,"hours":10,"utc":true}],"range":[949,1503],"clamp":true,"nice":false}},
 "x2":{"field":"t2"},
 "y":{"field":"r","type":"quantitative","scale":{"domain":[-5.276,56.326],"reverse":true,"nice":false,"zero":false}},"y2":{"field":"r2"}}},

{"data":{"name":"links"},"transform":[{"filter":"datum.rel === 'crit'"}],"mark":{"type":"rule","color":"#FF0000","strokeWidth":1.5},
 "encoding":{"x":{"field":"t1","type":"temporal","scale":{"type":"utc","domain":[{"year":2014,"month":7,"date":21,"hours":8,"utc":true},{"year":2014,"month":11,"date":21,"hours":10,"utc":true}],"range":[949,1503],"clamp":true,"nice":false}},
 "x2":{"field":"t2"},
 "y":{"field":"r","type":"quantitative","scale":{"domain":[-5.276,56.326],"reverse":true,"nice":false,"zero":false}},"y2":{"field":"r2"}}},

{"data":{"name":"bars"},"mark":{"type":"rect","stroke":"#000000","strokeWidth":0.8,"yOffset":-4.6,"y2Offset":4.6},
 "encoding":{"x":{"field":"from","type":"temporal","scale":{"type":"utc","domain":[{"year":2014,"month":7,"date":21,"hours":8,"utc":true},{"year":2014,"month":11,"date":21,"hours":10,"utc":true}],"range":[949,1503],"clamp":true,"nice":false}},
 "x2":{"field":"to"},
 "y":{"field":"r","type":"quantitative","scale":{"domain":[-5.276,56.326],"reverse":true,"nice":false,"zero":false}},"y2":{"field":"r"},
 "color":{"field":"seg","type":"nominal","scale":{"domain":["act","rem","crit"],"range":["#0000FF","#80FF80","#FF0000"]},"legend":null}}},

{"data":{"name":"miles"},"mark":{"type":"point","shape":"diamond","filled":true,"color":"#000000","size":72,"opacity":1},
 "encoding":{"x":{"field":"at","type":"temporal","scale":{"type":"utc","domain":[{"year":2014,"month":7,"date":21,"hours":8,"utc":true},{"year":2014,"month":11,"date":21,"hours":10,"utc":true}],"range":[949,1503],"clamp":true,"nice":false}},
 "y":{"field":"r","type":"quantitative","scale":{"domain":[-5.276,56.326],"reverse":true,"nice":false,"zero":false}}}},

{"data":{"name":"arrows"},"mark":{"type":"point","filled":true,"size":26,"opacity":1},
 "encoding":{"x":{"field":"at","type":"temporal","scale":{"type":"utc","domain":[{"year":2014,"month":7,"date":21,"hours":8,"utc":true},{"year":2014,"month":11,"date":21,"hours":10,"utc":true}],"range":[949,1503],"clamp":true,"nice":false}},
 "y":{"field":"r","type":"quantitative","scale":{"domain":[-5.276,56.326],"reverse":true,"nice":false,"zero":false}},
 "shape":{"field":"dir","type":"nominal","scale":{"domain":["R","L"],"range":["triangle-right","triangle-left"]},"legend":null},
 "color":{"field":"rel","type":"nominal","scale":{"domain":["crit","norm"],"range":["#FF0000","#000000"]},"legend":null}}},

{"data":{"values":[{}]},"mark":{"type":"rule","color":"#1010D0","strokeWidth":1.6},
 "encoding":{"x":{"datum":{"year":2014,"month":8,"date":21,"utc":true},"type":"temporal","scale":{"type":"utc","domain":[{"year":2014,"month":7,"date":21,"hours":8,"utc":true},{"year":2014,"month":11,"date":21,"hours":10,"utc":true}],"range":[949,1503],"clamp":true,"nice":false}},
 "y":{"datum":0.5,"type":"quantitative","scale":{"domain":[-5.276,56.326],"reverse":true,"nice":false,"zero":false}},"y2":{"datum":48.5}}},

{"data":{"values":[{}]},"mark":{"type":"rule","color":"#FF0000","strokeWidth":1.6},
 "encoding":{"x":{"datum":{"year":2014,"month":9,"date":23,"hours":14,"utc":true},"type":"temporal","scale":{"type":"utc","domain":[{"year":2014,"month":7,"date":21,"hours":8,"utc":true},{"year":2014,"month":11,"date":21,"hours":10,"utc":true}],"range":[949,1503],"clamp":true,"nice":false}},
 "y":{"datum":0.5,"type":"quantitative","scale":{"domain":[-5.276,56.326],"reverse":true,"nice":false,"zero":false}},"y2":{"datum":48.5}}},

{"data":{"name":"rows"},"transform":[{"filter":"datum.type === 'band'"}],"mark":{"type":"text","align":"left","baseline":"middle","dx":21.3,"font":"Liberation Sans, Arial, sans-serif","fontSize":10.6,"fontWeight":"bold"},
 "encoding":{"x":{"field":"lvl","type":"quantitative","scale":{"domain":[-3,-2,-1,0,1,2,3,4,5,10,20,30,40,50,60],"range":[94.2,94.8,99.3,103.7,107,111.5,116.3,121,125.3,266.4,683.6,741.3,825.4,904.4,949],"nice":false,"zero":false}},
 "y":{"field":"r","type":"quantitative","scale":{"domain":[-5.276,56.326],"reverse":true,"nice":false,"zero":false}},
 "text":{"field":"name","type":"nominal"},
 "color":{"field":"lvl","type":"ordinal","scale":{"domain":[1,2,3,4,5],"range":["#FFFFFF","#FFFFFF","#000000","#000000","#000000"]},"legend":null}}},

{"data":{"name":"rows"},"transform":[{"filter":"datum.type === 'act'"}],"mark":{"type":"text","align":"left","baseline":"middle","dx":21.3,"font":"Liberation Sans, Arial, sans-serif","fontSize":10.4,"color":"#000000"},
 "encoding":{"x":{"field":"lvl","type":"quantitative","scale":{"domain":[-3,-2,-1,0,1,2,3,4,5,10,20,30,40,50,60],"range":[94.2,94.8,99.3,103.7,107,111.5,116.3,121,125.3,266.4,683.6,741.3,825.4,904.4,949],"nice":false,"zero":false}},
 "y":{"field":"r","type":"quantitative","scale":{"domain":[-5.276,56.326],"reverse":true,"nice":false,"zero":false}},
 "text":{"field":"id","type":"nominal"}}},

{"data":{"name":"rows"},"transform":[{"filter":"datum.type === 'act'"}],"mark":{"type":"text","align":"left","baseline":"middle","dx":3,"font":"Liberation Sans, Arial, sans-serif","fontSize":10.4,"color":"#000000"},
 "encoding":{"x":{"datum":10,"type":"quantitative","scale":{"domain":[-3,-2,-1,0,1,2,3,4,5,10,20,30,40,50,60],"range":[94.2,94.8,99.3,103.7,107,111.5,116.3,121,125.3,266.4,683.6,741.3,825.4,904.4,949],"nice":false,"zero":false}},
 "y":{"field":"r","type":"quantitative","scale":{"domain":[-5.276,56.326],"reverse":true,"nice":false,"zero":false}},
 "text":{"field":"name","type":"nominal"}}},

{"data":{"name":"rows"},"mark":{"type":"text","align":"right","baseline":"middle","dx":-2.3,"font":"Liberation Sans, Arial, sans-serif","fontSize":10.4},
 "encoding":{"x":{"datum":30,"type":"quantitative","scale":{"domain":[-3,-2,-1,0,1,2,3,4,5,10,20,30,40,50,60],"range":[94.2,94.8,99.3,103.7,107,111.5,116.3,121,125.3,266.4,683.6,741.3,825.4,904.4,949],"nice":false,"zero":false}},
 "y":{"field":"r","type":"quantitative","scale":{"domain":[-5.276,56.326],"reverse":true,"nice":false,"zero":false}},
 "text":{"field":"dur","type":"nominal"},
 "color":{"field":"lvl","type":"ordinal","scale":{"domain":[1,2,3,4,5],"range":["#FFFFFF","#FFFFFF","#000000","#000000","#000000"]},"legend":null}}},

{"data":{"name":"rows"},"mark":{"type":"text","align":"left","baseline":"middle","dx":4.2,"font":"Liberation Sans, Arial, sans-serif","fontSize":10.4},
 "encoding":{"x":{"datum":30,"type":"quantitative","scale":{"domain":[-3,-2,-1,0,1,2,3,4,5,10,20,30,40,50,60],"range":[94.2,94.8,99.3,103.7,107,111.5,116.3,121,125.3,266.4,683.6,741.3,825.4,904.4,949],"nice":false,"zero":false}},
 "y":{"field":"r","type":"quantitative","scale":{"domain":[-5.276,56.326],"reverse":true,"nice":false,"zero":false}},
 "text":{"field":"start","type":"nominal"},
 "color":{"field":"lvl","type":"ordinal","scale":{"domain":[1,2,3,4,5],"range":["#FFFFFF","#FFFFFF","#000000","#000000","#000000"]},"legend":null}}},

{"data":{"name":"rows"},"mark":{"type":"text","align":"left","baseline":"middle","dx":4,"font":"Liberation Sans, Arial, sans-serif","fontSize":10.4},
 "encoding":{"x":{"datum":40,"type":"quantitative","scale":{"domain":[-3,-2,-1,0,1,2,3,4,5,10,20,30,40,50,60],"range":[94.2,94.8,99.3,103.7,107,111.5,116.3,121,125.3,266.4,683.6,741.3,825.4,904.4,949],"nice":false,"zero":false}},
 "y":{"field":"r","type":"quantitative","scale":{"domain":[-5.276,56.326],"reverse":true,"nice":false,"zero":false}},
 "text":{"field":"finish","type":"nominal"},
 "color":{"field":"lvl","type":"ordinal","scale":{"domain":[1,2,3,4,5],"range":["#FFFFFF","#FFFFFF","#000000","#000000","#000000"]},"legend":null}}},

{"data":{"name":"rows"},"mark":{"type":"text","align":"right","baseline":"middle","dx":-2.5,"font":"Liberation Sans, Arial, sans-serif","fontSize":10.4},
 "encoding":{"x":{"datum":60,"type":"quantitative","scale":{"domain":[-3,-2,-1,0,1,2,3,4,5,10,20,30,40,50,60],"range":[94.2,94.8,99.3,103.7,107,111.5,116.3,121,125.3,266.4,683.6,741.3,825.4,904.4,949],"nice":false,"zero":false}},
 "y":{"field":"r","type":"quantitative","scale":{"domain":[-5.276,56.326],"reverse":true,"nice":false,"zero":false}},
 "text":{"field":"float","type":"nominal"},
 "color":{"field":"lvl","type":"ordinal","scale":{"domain":[1,2,3,4,5],"range":["#FFFFFF","#FFFFFF","#000000","#000000","#000000"]},"legend":null}}},

{"data":{"values":[{"v":-1.436},{"v":0.5}]},"mark":{"type":"rule","color":"#333333","strokeWidth":1},
 "encoding":{"x":{"datum":0,"type":"quantitative","scale":{"domain":[0,1,2,3,4,5,6,7,8,9,10],"range":[94.2,96,563,717,791,798,872,949,1032,1268,1503],"nice":false,"zero":false}},"x2":{"datum":10},
 "y":{"field":"v","type":"quantitative","scale":{"domain":[-5.276,56.326],"reverse":true,"nice":false,"zero":false}},"y2":{"field":"v"}}},

{"data":{"values":[{"v":-0.833},{"v":-0.164}]},"mark":{"type":"rule","color":"#333333","strokeWidth":1},
 "encoding":{"x":{"datum":7,"type":"quantitative","scale":{"domain":[0,1,2,3,4,5,6,7,8,9,10],"range":[94.2,96,563,717,791,798,872,949,1032,1268,1503],"nice":false,"zero":false}},"x2":{"datum":10},
 "y":{"field":"v","type":"quantitative","scale":{"domain":[-5.276,56.326],"reverse":true,"nice":false,"zero":false}},"y2":{"field":"v"}}},

{"data":{"values":[{"e":10},{"e":20},{"e":30},{"e":40},{"e":50},{"e":60}]},"mark":{"type":"rule","color":"#333333","strokeWidth":1},
 "encoding":{"x":{"field":"e","type":"quantitative","scale":{"domain":[-3,-2,-1,0,1,2,3,4,5,10,20,30,40,50,60],"range":[94.2,94.8,99.3,103.7,107,111.5,116.3,121,125.3,266.4,683.6,741.3,825.4,904.4,949],"nice":false,"zero":false}},
 "y":{"datum":-1.436,"type":"quantitative","scale":{"domain":[-5.276,56.326],"reverse":true,"nice":false,"zero":false}},"y2":{"datum":0.5}}},

{"data":{"name":"timescale"},"mark":{"type":"rule","color":"#333333","strokeWidth":1},
 "encoding":{"x":{"field":"d","type":"temporal","scale":{"type":"utc","domain":[{"year":2014,"month":7,"date":21,"hours":8,"utc":true},{"year":2014,"month":11,"date":21,"hours":10,"utc":true}],"range":[949,1503],"clamp":true,"nice":false}},
 "y":{"datum":-0.833,"type":"quantitative","scale":{"domain":[-5.276,56.326],"reverse":true,"nice":false,"zero":false}},"y2":{"datum":0.5}}},

{"data":{"values":[{"a":3},{"a":8}]},"mark":{"type":"rule","color":"#555555","strokeWidth":1},
 "encoding":{"x":{"field":"a","type":"quantitative","scale":{"domain":[0,1,2,3,4,5,6,7,8,9,10],"range":[94.2,96,563,717,791,798,872,949,1032,1268,1503],"nice":false,"zero":false}},
 "y":{"datum":-3.888,"type":"quantitative","scale":{"domain":[-5.276,56.326],"reverse":true,"nice":false,"zero":false}},"y2":{"datum":-1.436}}},

{"data":{"values":[{}]},"mark":{"type":"rule","color":"#7F7F7F","strokeWidth":1.5},
 "encoding":{"x":{"datum":60,"type":"quantitative","scale":{"domain":[-3,-2,-1,0,1,2,3,4,5,10,20,30,40,50,60],"range":[94.2,94.8,99.3,103.7,107,111.5,116.3,121,125.3,266.4,683.6,741.3,825.4,904.4,949],"nice":false,"zero":false}},
 "y":{"datum":0.5,"type":"quantitative","scale":{"domain":[-5.276,56.326],"reverse":true,"nice":false,"zero":false}},"y2":{"datum":48.5}}},

{"data":{"values":[{"v":48.5}]},"mark":{"type":"rule","color":"#7F7F7F","strokeWidth":1},
 "encoding":{"x":{"datum":0,"type":"quantitative","scale":{"domain":[0,1,2,3,4,5,6,7,8,9,10],"range":[94.2,96,563,717,791,798,872,949,1032,1268,1503],"nice":false,"zero":false}},"x2":{"datum":10},
 "y":{"field":"v","type":"quantitative","scale":{"domain":[-5.276,56.326],"reverse":true,"nice":false,"zero":false}},"y2":{"field":"v"}}},

{"data":{"values":[{"v":48.63}]},"mark":{"type":"rule","color":"#333333","strokeWidth":2},
 "encoding":{"x":{"datum":0,"type":"quantitative","scale":{"domain":[0,1,2,3,4,5,6,7,8,9,10],"range":[94.2,96,563,717,791,798,872,949,1032,1268,1503],"nice":false,"zero":false}},"x2":{"datum":10},
 "y":{"field":"v","type":"quantitative","scale":{"domain":[-5.276,56.326],"reverse":true,"nice":false,"zero":false}},"y2":{"field":"v"}}},

{"data":{"values":[{"a":2},{"a":8}]},"mark":{"type":"rule","color":"#555555","strokeWidth":1},
 "encoding":{"x":{"field":"a","type":"quantitative","scale":{"domain":[0,1,2,3,4,5,6,7,8,9,10],"range":[94.2,96,563,717,791,798,872,949,1032,1268,1503],"nice":false,"zero":false}},
 "y":{"datum":48.63,"type":"quantitative","scale":{"domain":[-5.276,56.326],"reverse":true,"nice":false,"zero":false}},"y2":{"datum":52.72}}},

{"data":{"values":[{}]},"mark":{"type":"rect","filled":false,"color":"#4D4D4D","strokeWidth":1.2},
 "encoding":{"x":{"datum":0,"type":"quantitative","scale":{"domain":[0,1,2,3,4,5,6,7,8,9,10],"range":[94.2,96,563,717,791,798,872,949,1032,1268,1503],"nice":false,"zero":false}},"x2":{"datum":10},
 "y":{"datum":-3.888,"type":"quantitative","scale":{"domain":[-5.276,56.326],"reverse":true,"nice":false,"zero":false}},"y2":{"datum":52.72}}},

{"data":{"values":[{}]},"mark":{"type":"text","text":"Contract No. HY/2010/02 Hong Kong - Zhuhai - Macao Bridge","align":"left","baseline":"middle","font":"Liberation Sans, Arial, sans-serif","fontSize":12.5,"fontWeight":"bold","color":"#000000"},
 "encoding":{"x":{"datum":1,"type":"quantitative","scale":{"domain":[0,1,2,3,4,5,6,7,8,9,10],"range":[94.2,96,563,717,791,798,872,949,1032,1268,1503],"nice":false,"zero":false}},
 "y":{"datum":-3.444,"type":"quantitative","scale":{"domain":[-5.276,56.326],"reverse":true,"nice":false,"zero":false}}}},

{"data":{"values":[{}]},"mark":{"type":"text","text":"Hong Kong Boundary Corssing Facilities - Reclamation Works","align":"left","baseline":"middle","font":"Liberation Sans, Arial, sans-serif","fontSize":12.5,"fontWeight":"bold","color":"#000000"},
 "encoding":{"x":{"datum":1,"type":"quantitative","scale":{"domain":[0,1,2,3,4,5,6,7,8,9,10],"range":[94.2,96,563,717,791,798,872,949,1032,1268,1503],"nice":false,"zero":false}},
 "y":{"datum":-1.886,"type":"quantitative","scale":{"domain":[-5.276,56.326],"reverse":true,"nice":false,"zero":false}}}},

{"data":{"values":[{}]},"mark":{"type":"text","text":"EMandA Quaterly Report Programme","align":"center","baseline":"middle","font":"Liberation Sans, Arial, sans-serif","fontSize":12.5,"fontWeight":"bold","color":"#000000"},
 "encoding":{"x":{"datum":6,"type":"quantitative","scale":{"domain":[0,1,2,3,4,5,6,7,8,9,10],"range":[94.2,96,563,717,791,798,872,949,1032,1268,1503],"nice":false,"zero":false}},
 "y":{"datum":-3.444,"type":"quantitative","scale":{"domain":[-5.276,56.326],"reverse":true,"nice":false,"zero":false}}}},

{"data":{"values":[{}]},"mark":{"type":"text","text":"Data Date :21-Aug-14","align":"center","baseline":"middle","font":"Liberation Serif, Times New Roman, serif","fontSize":10,"color":"#000000"},
 "encoding":{"x":{"datum":6,"type":"quantitative","scale":{"domain":[0,1,2,3,4,5,6,7,8,9,10],"range":[94.2,96,563,717,791,798,872,949,1032,1268,1503],"nice":false,"zero":false}},
 "y":{"datum":-1.941,"type":"quantitative","scale":{"domain":[-5.276,56.326],"reverse":true,"nice":false,"zero":false}}}},

{"data":{"name":"colhdr"},"transform":[{"filter":"datum.side === 'l'"}],"mark":{"type":"text","align":"left","baseline":"middle","dx":3.5,"font":"Liberation Sans, Arial, sans-serif","fontSize":10.4,"color":"#000000"},
 "encoding":{"x":{"field":"a","type":"quantitative","scale":{"domain":[-3,-2,-1,0,1,2,3,4,5,10,20,30,40,50,60],"range":[94.2,94.8,99.3,103.7,107,111.5,116.3,121,125.3,266.4,683.6,741.3,825.4,904.4,949],"nice":false,"zero":false}},
 "y":{"field":"line","type":"quantitative","scale":{"domain":[1,2],"range":[76.5,88.6],"nice":false,"zero":false}},
 "text":{"field":"label","type":"nominal"}}},

{"data":{"name":"colhdr"},"transform":[{"filter":"datum.side === 'r'"}],"mark":{"type":"text","align":"right","baseline":"middle","dx":-2.3,"font":"Liberation Sans, Arial, sans-serif","fontSize":10.4,"color":"#000000"},
 "encoding":{"x":{"field":"a","type":"quantitative","scale":{"domain":[-3,-2,-1,0,1,2,3,4,5,10,20,30,40,50,60],"range":[94.2,94.8,99.3,103.7,107,111.5,116.3,121,125.3,266.4,683.6,741.3,825.4,904.4,949],"nice":false,"zero":false}},
 "y":{"field":"line","type":"quantitative","scale":{"domain":[1,2],"range":[76.5,88.6],"nice":false,"zero":false}},
 "text":{"field":"label","type":"nominal"}}},

{"data":{"values":[{}]},"mark":{"type":"text","text":"2014","align":"center","baseline":"middle","font":"Liberation Sans, Arial, sans-serif","fontSize":10.4,"color":"#000000"},
 "encoding":{"x":{"datum":{"year":2014,"month":9,"date":21,"utc":true},"type":"temporal","scale":{"type":"utc","domain":[{"year":2014,"month":7,"date":21,"hours":8,"utc":true},{"year":2014,"month":11,"date":21,"hours":10,"utc":true}],"range":[949,1503],"clamp":true,"nice":false}},
 "y":{"datum":-1.135,"type":"quantitative","scale":{"domain":[-5.276,56.326],"reverse":true,"nice":false,"zero":false}}}},

{"data":{"name":"timescale"},"mark":{"type":"text","align":"center","baseline":"middle","font":"Liberation Sans, Arial, sans-serif","fontSize":10.4,"color":"#000000"},
 "encoding":{"x":{"field":"mid","type":"temporal","scale":{"type":"utc","domain":[{"year":2014,"month":7,"date":21,"hours":8,"utc":true},{"year":2014,"month":11,"date":21,"hours":10,"utc":true}],"range":[949,1503],"clamp":true,"nice":false}},
 "y":{"datum":-0.4985,"type":"quantitative","scale":{"domain":[-5.276,56.326],"reverse":true,"nice":false,"zero":false}},
 "text":{"field":"mon","type":"nominal"}}},

{"data":{"name":"timescale"},"mark":{"type":"text","align":"center","baseline":"middle","font":"Liberation Sans, Arial, sans-serif","fontSize":10.4,"color":"#000000"},
 "encoding":{"x":{"field":"mid","type":"temporal","scale":{"type":"utc","domain":[{"year":2014,"month":7,"date":21,"hours":8,"utc":true},{"year":2014,"month":11,"date":21,"hours":10,"utc":true}],"range":[949,1503],"clamp":true,"nice":false}},
 "y":{"datum":0.168,"type":"quantitative","scale":{"domain":[-5.276,56.326],"reverse":true,"nice":false,"zero":false}},
 "text":{"field":"wk","type":"nominal"}}},

{"data":{"values":[{}]},"mark":{"type":"text","text":"Page 7 of 8","align":"center","baseline":"middle","font":"Liberation Sans, Arial, sans-serif","fontSize":10.6,"color":"#000000"},
 "encoding":{"x":{"datum":5,"type":"quantitative","scale":{"domain":[0,1,2,3,4,5,6,7,8,9,10],"range":[94.2,96,563,717,791,798,872,949,1032,1268,1503],"nice":false,"zero":false}},
 "y":{"datum":49.34,"type":"quantitative","scale":{"domain":[-5.276,56.326],"reverse":true,"nice":false,"zero":false}}}},

{"data":{"values":[{}]},"mark":{"type":"text","text":"32th Monthly Progress Report Status as on 21Aug2014 Ver.5","align":"center","baseline":"middle","font":"Liberation Serif, Times New Roman, serif","fontSize":10,"color":"#000000"},
 "encoding":{"x":{"datum":4,"type":"quantitative","scale":{"domain":[0,1,2,3,4,5,6,7,8,9,10],"range":[94.2,96,563,717,791,798,872,949,1032,1268,1503],"nice":false,"zero":false}},
 "y":{"datum":50.79,"type":"quantitative","scale":{"domain":[-5.276,56.326],"reverse":true,"nice":false,"zero":false}}}},

{"data":{"values":[{}]},"mark":{"type":"text","text":"China Harbour Engineering Co., Ltd","align":"center","baseline":"middle","font":"Liberation Sans, Arial, sans-serif","fontSize":10.6,"color":"#000000"},
 "encoding":{"x":{"datum":9,"type":"quantitative","scale":{"domain":[0,1,2,3,4,5,6,7,8,9,10],"range":[94.2,96,563,717,791,798,872,949,1032,1268,1503],"nice":false,"zero":false}},
 "y":{"datum":49.34,"type":"quantitative","scale":{"domain":[-5.276,56.326],"reverse":true,"nice":false,"zero":false}}}},

{"data":{"name":"legend"},"transform":[{"filter":"datum.k === 'rloe' || datum.k === 'aloe'"}],"mark":{"type":"rect","x2Offset":38.5,"yOffset":-2,"y2Offset":2},
 "encoding":{"x":{"field":"lc","type":"quantitative","scale":{"domain":[1,2],"range":[106.3,280.5],"nice":false,"zero":false}},"x2":{"field":"lc"},
 "y":{"field":"lr","type":"quantitative","scale":{"domain":[1,3],"range":[999.6,1034],"nice":false,"zero":false}},"y2":{"field":"lr"},
 "color":{"field":"k","type":"nominal","scale":{"domain":["rloe","aloe"],"range":["#007A00","#000080"]},"legend":null}}},

{"data":{"name":"legend"},"transform":[{"filter":"datum.k === 'act' || datum.k === 'rem' || datum.k === 'crit'"}],"mark":{"type":"rect","x2Offset":39,"yOffset":-4.5,"y2Offset":4.5,"stroke":"#000000","strokeWidth":0.8},
 "encoding":{"x":{"field":"lc","type":"quantitative","scale":{"domain":[1,2],"range":[106.3,280.5],"nice":false,"zero":false}},"x2":{"field":"lc"},
 "y":{"field":"lr","type":"quantitative","scale":{"domain":[1,3],"range":[999.6,1034],"nice":false,"zero":false}},"y2":{"field":"lr"},
 "color":{"field":"k","type":"nominal","scale":{"domain":["act","rem","crit"],"range":["#0000FF","#80FF80","#FF0000"]},"legend":null}}},

{"data":{"name":"legend"},"transform":[{"filter":"datum.k === 'ms'"}],"mark":{"type":"point","shape":"diamond","filled":true,"color":"#000000","size":60,"opacity":1,"xOffset":2.2},
 "encoding":{"x":{"field":"lc","type":"quantitative","scale":{"domain":[1,2],"range":[106.3,280.5],"nice":false,"zero":false}},
 "y":{"field":"lr","type":"quantitative","scale":{"domain":[1,3],"range":[999.6,1034],"nice":false,"zero":false}}}},

{"data":{"name":"legend"},"transform":[{"filter":"datum.k === 'ms'"}],"mark":{"type":"point","shape":"diamond","filled":true,"color":"#000000","size":60,"opacity":1,"xOffset":39.5},
 "encoding":{"x":{"field":"lc","type":"quantitative","scale":{"domain":[1,2],"range":[106.3,280.5],"nice":false,"zero":false}},
 "y":{"field":"lr","type":"quantitative","scale":{"domain":[1,3],"range":[999.6,1034],"nice":false,"zero":false}}}},

{"data":{"name":"legend"},"mark":{"type":"text","align":"left","baseline":"middle","font":"Liberation Sans, Arial, sans-serif","fontSize":10.3,"color":"#000000"},
 "encoding":{"x":{"field":"lc","type":"quantitative","scale":{"domain":[1,2],"range":[153,329],"nice":false,"zero":false}},
 "y":{"field":"lr","type":"quantitative","scale":{"domain":[1,3],"range":[999.6,1034],"nice":false,"zero":false}},
 "text":{"field":"label","type":"nominal"}}}
],
"resolve":{"scale":{"x":"independent","y":"independent","color":"independent","shape":"independent"}}
}
